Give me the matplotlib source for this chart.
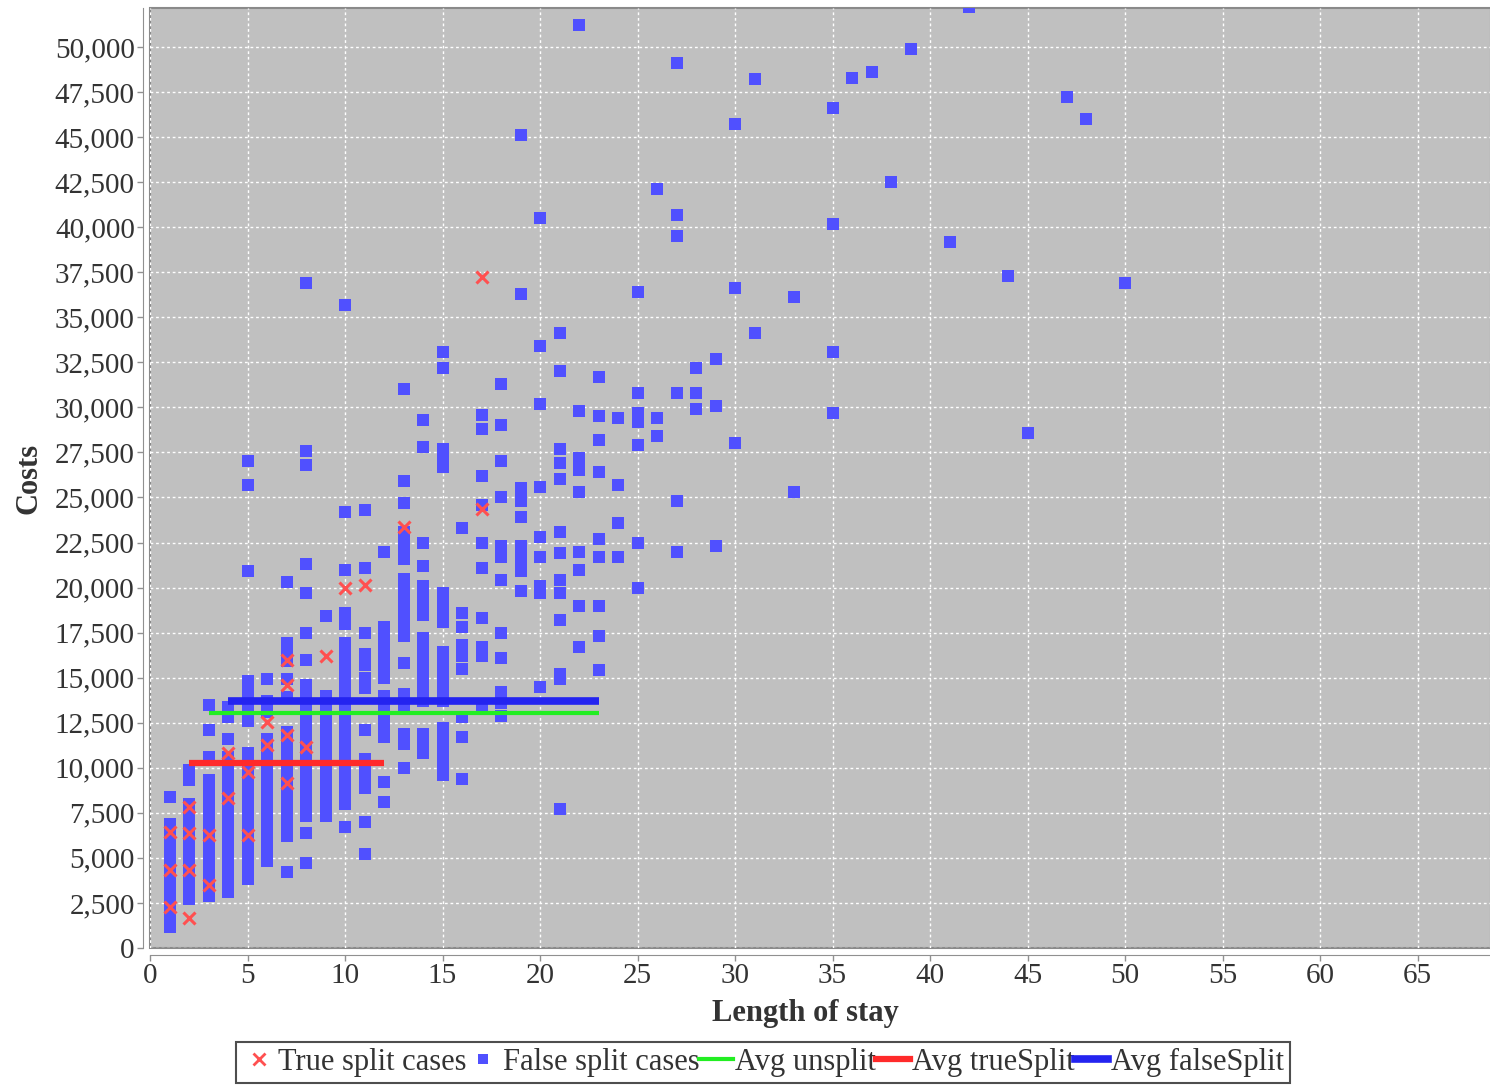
import matplotlib
matplotlib.use("Agg")

import matplotlib.pyplot as plt
from matplotlib.lines import Line2D
from matplotlib.ticker import FuncFormatter, MultipleLocator

# false split cases: one list of costs per length of stay
false_los = [1, 2, 3, 4, 5, 6, 7, 8, 9, 10, 11, 12, 13, 14, 15, 16, 17, 18, 19, 20,
             21, 22, 23, 24, 25, 26, 27, 28, 29, 30, 31, 33, 35, 36, 37, 38, 39, 41,
             42, 44, 45, 47, 48, 50]
false_costs = [
    [8400, 6900, 6300, 5700, 5100, 4500, 3900, 3300, 2700, 2100, 1500, 1150],
    [9900, 9300, 8000, 7400, 6800, 6200, 5600, 5000, 4400, 3800, 3200, 2700],
    [13500, 12100, 10600, 9300, 8700, 8100, 7500, 6900, 6300, 5700, 5100, 4500, 3900, 3400, 2900],
    [13400, 12800, 11600, 10600, 10000, 9400, 8800, 8200, 7600, 7000, 6400, 5800, 5200, 4600,
     4000, 3500, 3100],
    [27000, 25700, 20900, 14800, 14200, 13600, 13000, 12600, 10800, 10200, 9600, 9000, 8400,
     7800, 7200, 6600, 6000, 5400, 4800, 4300, 3800],
    [14900, 13700, 13100, 11600, 11000, 10400, 9800, 9200, 8600, 8000, 7400, 6800, 6200, 5600,
     5100, 4800],
    [20300, 16900, 16400, 15900, 14900, 13900, 12000, 11400, 10800, 10200, 9600, 9000, 8400,
     7800, 7200, 6600, 6200, 4200],
    [36900, 27600, 26800, 21300, 19700, 17500, 16000, 14600, 14000, 13400, 12800, 12200, 11600,
     11000, 10400, 9800, 9200, 8600, 8000, 7300, 6400, 4700],
    [18400, 14000, 13400, 12800, 12200, 11600, 11000, 10400, 9800, 9200, 8600, 8000, 7300],
    [35700, 24200, 21000, 18600, 18000, 16900, 16300, 15700, 15100, 14500, 13900, 13300, 12700,
     12100, 11500, 10900, 10300, 9700, 9100, 8500, 8000, 6700],
    [24300, 21100, 17500, 16300, 15700, 15000, 14400, 12100, 10500, 9900, 9400, 8900, 7000, 5200],
    [22000, 17800, 17200, 16600, 15900, 15300, 15000, 14000, 13400, 12800, 12200, 11700, 9200, 8100],
    [31000, 25900, 24700, 23100, 22500, 21900, 21600, 20500, 20000, 19500, 18900, 18300, 17800,
     17300, 15800, 14100, 13500, 11900, 11300, 10000],
    [29300, 27800, 22500, 21200, 20100, 19500, 18900, 18500, 17200, 16600, 16000, 15400, 14800,
     14200, 13700, 11900, 11300, 10800],
    [33100, 32200, 27700, 27200, 26700, 19700, 19100, 18500, 18100, 16400, 15800, 15200, 14600,
     14000, 13700, 12200, 11600, 11000, 10400, 9900, 9600],
    [23300, 18600, 17800, 16800, 16200, 15500, 12800, 11700, 9400],
    [29600, 28800, 26200, 24600, 22500, 21100, 18300, 16700, 16200, 13400],
    [31300, 29000, 27000, 25000, 22300, 21700, 20400, 17500, 16100, 14200, 13600, 12900],
    [45100, 36300, 25500, 25100, 24800, 23900, 22300, 21700, 21200, 20900, 19800],
    [40500, 33400, 30200, 25600, 22800, 21700, 20100, 19700, 14500],
    [34100, 32000, 27700, 26900, 26000, 23100, 21900, 20400, 19700, 18200, 15200, 14900, 7700],
    [51200, 29800, 27200, 26500, 25300, 22000, 21000, 19000, 16700],
    [31700, 29500, 28200, 26400, 22700, 21700, 19000, 17300, 15400],
    [29400, 25700, 23600, 21700],
    [36400, 30800, 29700, 29200, 27900, 22500, 20000],
    [42100, 29400, 28400],
    [49100, 40700, 39500, 30800, 24800, 22000],
    [32200, 30800, 29900],
    [32700, 30100, 22300],
    [45700, 36600, 28000],
    [48200, 34100],
    [36100, 25300],
    [46600, 40200, 33100, 29700],
    [48300],
    [48600],
    [42500],
    [49900],
    [39200],
    [52200],
    [37300],
    [28600],
    [47200],
    [46000],
    [36900],
]

# true split cases
true_los = [1, 1, 1, 2, 2, 2, 2, 3, 3, 4, 4, 5, 5, 6, 6, 7, 7, 7, 7, 8, 9, 10, 11, 13, 17, 17]
true_costs = [6450, 4330, 2280, 7800, 6400, 4330, 1660, 6270, 3500, 10800, 8300, 9770, 6270,
              12550, 11260, 15980, 14600, 11800, 9150, 11150, 16200, 20000, 20150, 23360,
              37250, 24360]

# averages: value and the length-of-stay range they span
avg_names = ["Avg unsplit", "Avg trueSplit", "Avg falseSplit"]
avg_values = [13040, 10270, 13710]
avg_start = [3, 2, 4]
avg_end = [23, 12, 23]

x_ticks = list(range(0, 70, 5))

serif = ["Liberation Serif", "DejaVu Serif"]
plt.rcParams["font.family"] = serif

fig = plt.figure(figsize=(14.9, 10.87), dpi=100)
ax = fig.add_axes([0.1007, 0.1279, 0.9, 0.8647])
ax.set_facecolor("#c0c0c0")

for los, costs in zip(false_los, false_costs):
    ax.plot([los] * len(costs), costs, linestyle="none", marker="s", markersize=9,
            markeredgewidth=0, color="#5050ff", zorder=3)

ax.plot(true_los, true_costs, linestyle="none", marker="x", markersize=9,
        markeredgewidth=2.2, color="#ff5050", zorder=4)

avg_colors = ["#22ee22", "#ff2a2a", "#2424f0"]
avg_widths = [3, 4.5, 5.5]
for val, x0, x1, c, w in zip(avg_values, avg_start, avg_end, avg_colors, avg_widths):
    ax.plot([x0, x1], [val, val], color=c, linewidth=w, solid_capstyle="butt", zorder=5)

ax.set_xlim(0, 68.77)
ax.set_ylim(0, 52160)
ax.set_xticks(x_ticks)
ax.yaxis.set_major_locator(MultipleLocator(2500))
ax.yaxis.set_major_formatter(FuncFormatter(lambda v, p: f"{int(v):,}"))

ax.grid(True, color="white", linestyle=(0, (2, 2)), linewidth=1)
ax.set_axisbelow(True)

for side in ["top", "right"]:
    ax.spines[side].set_visible(False)
for side in ["left", "bottom"]:
    ax.spines[side].set_position(("outward", 5))
    ax.spines[side].set_color("#909090")
ax.patch.set_edgecolor("#8a8a8a")
ax.patch.set_linewidth(1.5)

ax.tick_params(axis="both", labelsize=21, colors="#909090", length=4, width=1, pad=2)
for lbl in ax.get_xticklabels() + ax.get_yticklabels():
    lbl.set_color("#333333")

ax.set_xlabel("Length of stay", fontsize=22, fontweight="bold", color="#333333")
ax.xaxis.set_label_coords(0.489, -0.054)
ax.set_ylabel("Costs", fontsize=22, fontweight="bold", color="#333333", labelpad=8)

handles = [
    Line2D([], [], linestyle="none", marker="x", markersize=8, markeredgewidth=2, color="#ff5050"),
    Line2D([], [], linestyle="none", marker="s", markersize=7, markeredgewidth=0, color="#5050ff"),
]
labels = ["True split cases", "False split cases"]
for name, c, w in zip(avg_names, avg_colors, avg_widths):
    handles.append(Line2D([], [], color=c, linewidth=w))
    labels.append(name)

leg = fig.legend(handles, labels, loc="lower center", bbox_to_anchor=(0.512, 0.001), ncol=5,
                 fontsize=22, frameon=True, fancybox=False, handlelength=1.1,
                 handletextpad=0.08, columnspacing=0.0, borderpad=0.2, borderaxespad=0.1)
leg.get_frame().set_edgecolor("#222222")
leg.get_frame().set_linewidth(1.5)
for t in leg.get_texts():
    t.set_color("#333333")

fig.savefig("out.png", dpi=100)
